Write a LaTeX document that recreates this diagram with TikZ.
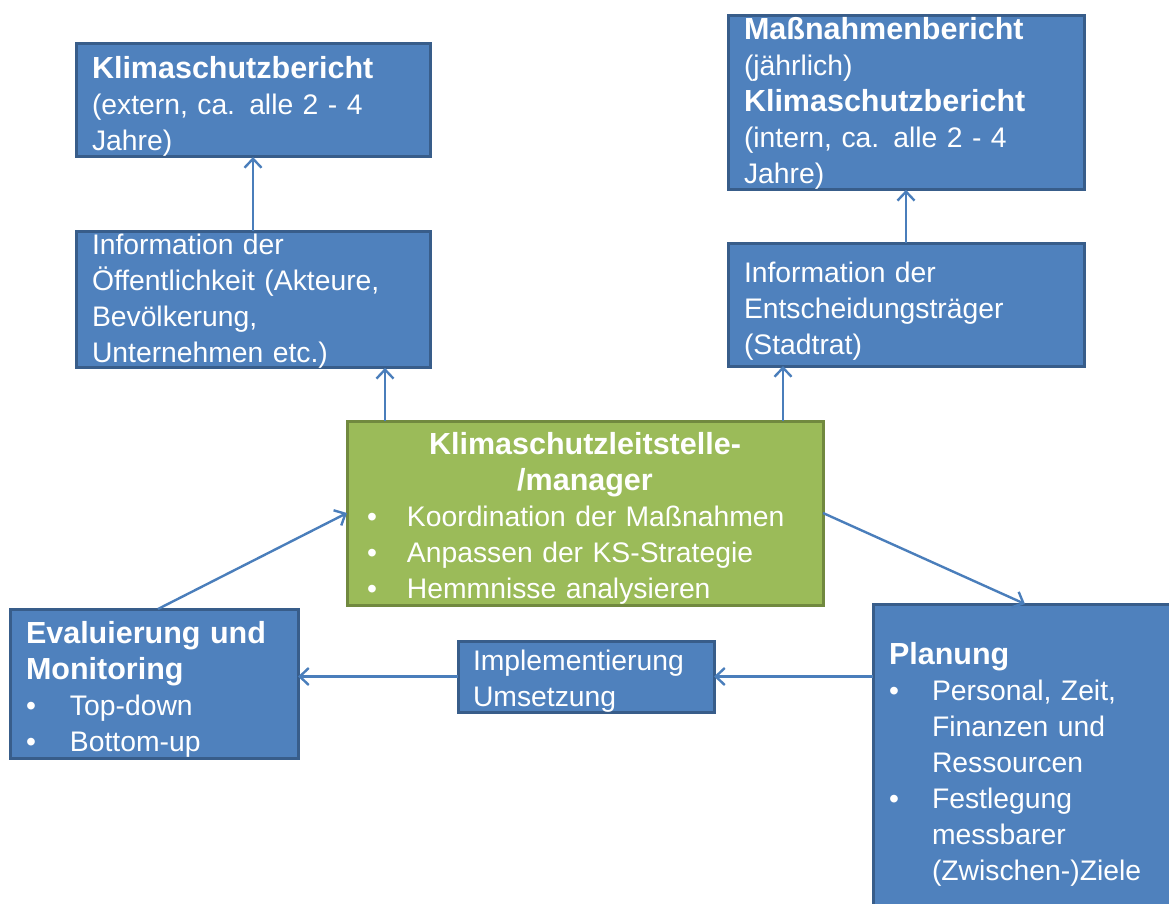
\documentclass[tikz,border=0pt]{standalone}
\usepackage{fontspec}
\setmainfont{Liberation Sans}
\usetikzlibrary{arrows.meta,positioning,calc}
\definecolor{cBox}{HTML}{4F81BD}
\definecolor{cBoxLine}{HTML}{385D8A}
\definecolor{cLead}{HTML}{9BBB59}
\definecolor{cLeadLine}{HTML}{71893F}
\definecolor{cArrow}{HTML}{4A7EBB}
\newcommand{\ttl}[1]{{\fontsize{30.5}{36}\selectfont\bfseries #1}}
\newcommand{\bul}[1][40pt]{\makebox[#1][l]{\textbullet}}
\newcommand{\ind}[1][40pt]{\hspace*{#1}}
% height of the first text line, pushes the text a little down in its box
\def\liftht{33pt}

\begin{document}
\begin{tikzpicture}[
  x=1pt, y=1pt,
  lift/.store in=\liftht,
  box/.style={rectangle, anchor=north west, fill=cBox, draw=cBoxLine,
    line width=3pt, outer sep=0pt, inner xsep=16pt, inner ysep=0pt,
    text=white, align=left, font=\fontsize{28.3}{36}\selectfont,
    execute at begin node={\rule{0pt}{\liftht}}},
  lead/.style={box, fill=cLead, draw=cLeadLine, inner xsep=20pt},
  arr/.style={draw=cArrow, line width=2.4pt,
    -{Straight Barb[length=9pt, width=17pt]}},
]
\useasboundingbox (0,0) rectangle (1169,-904);
\clip (0,0) rectangle (1169,-904);

% ================================================= reports and information
\node[box, text width=322pt, minimum height=113pt] (kbext) at (76,-44)
  {\ttl{Klimaschutzbericht}\\(extern, ca. alle 2 - 4\\Jahre)};
\node[box, lift=23pt, text width=322pt, minimum height=136pt] (oeff) at (76,-231)
  {Information der\\Öffentlichkeit (Akteure,\\Bevölkerung,\\Unternehmen etc.)};
\node[box, lift=24pt, text width=324pt, minimum height=173pt] (kbint) at (728,-16)
  {\ttl{Maßnahmenbericht}\\(jährlich)\\\ttl{Klimaschutzbericht}\\(intern, ca. alle 2 - 4\\Jahre)};
\node[box, lift=33pt, text width=324pt, minimum height=123pt] (entsch) at (728,-243)
  {Information der\\Entscheidungsträger\\(Stadtrat)};

% ============================================================ the centre
\node[lead, text width=436pt, minimum height=184pt] (leit) at (347,-421)
  {{\centering\ttl{Klimaschutzleitstelle-}\\\ttl{/manager}\par}%
   \bul Koordination der Maßnahmen\\
   \bul Anpassen der KS-Strategie\\
   \bul Hemmnisse analysieren};

% ============================================================ the cycle
\node[box, text width=256pt, minimum height=149pt] (eval) at (10,-609)
  {\ttl{Evaluierung und}\\\ttl{Monitoring}\\\bul[44pt]Top-down\\\bul[44pt]Bottom-up};
\node[box, lift=29pt, inner xsep=15pt, text width=226pt, minimum height=71pt] (impl) at (458,-641)
  {Implementierung\\Umsetzung};
\node[box, lift=33pt, text width=272pt, minimum height=310pt] (plan) at (873,-604)
  {\ttl{Planung}\\
   \bul[43pt]Personal, Zeit,\\\ind[43pt]Finanzen und\\\ind[43pt]Ressourcen\\
   \bul[43pt]Festlegung\\\ind[43pt]messbarer\\\ind[43pt](Zwischen-)Ziele};

% ============================================================ arrows
\coordinate (lt) at ([xshift=38pt]leit.north west);
\coordinate (rt) at ([xshift=-40pt]leit.north east);
\draw[arr] (oeff.north) -- (kbext.south);
\draw[arr] (entsch.north) -- (kbint.south);
\draw[arr] (lt) -- (lt |- oeff.south);
\draw[arr] (rt) -- (rt |- entsch.south);
\draw[arr] ([xshift=4pt]eval.north) -- (leit.west);
\draw[arr] (leit.east) -- (plan.north);
\draw[arr] (impl.east -| plan.west) -- (impl.east);
\draw[arr] (impl.west) -- (impl.west -| eval.east);
\end{tikzpicture}
\end{document}
